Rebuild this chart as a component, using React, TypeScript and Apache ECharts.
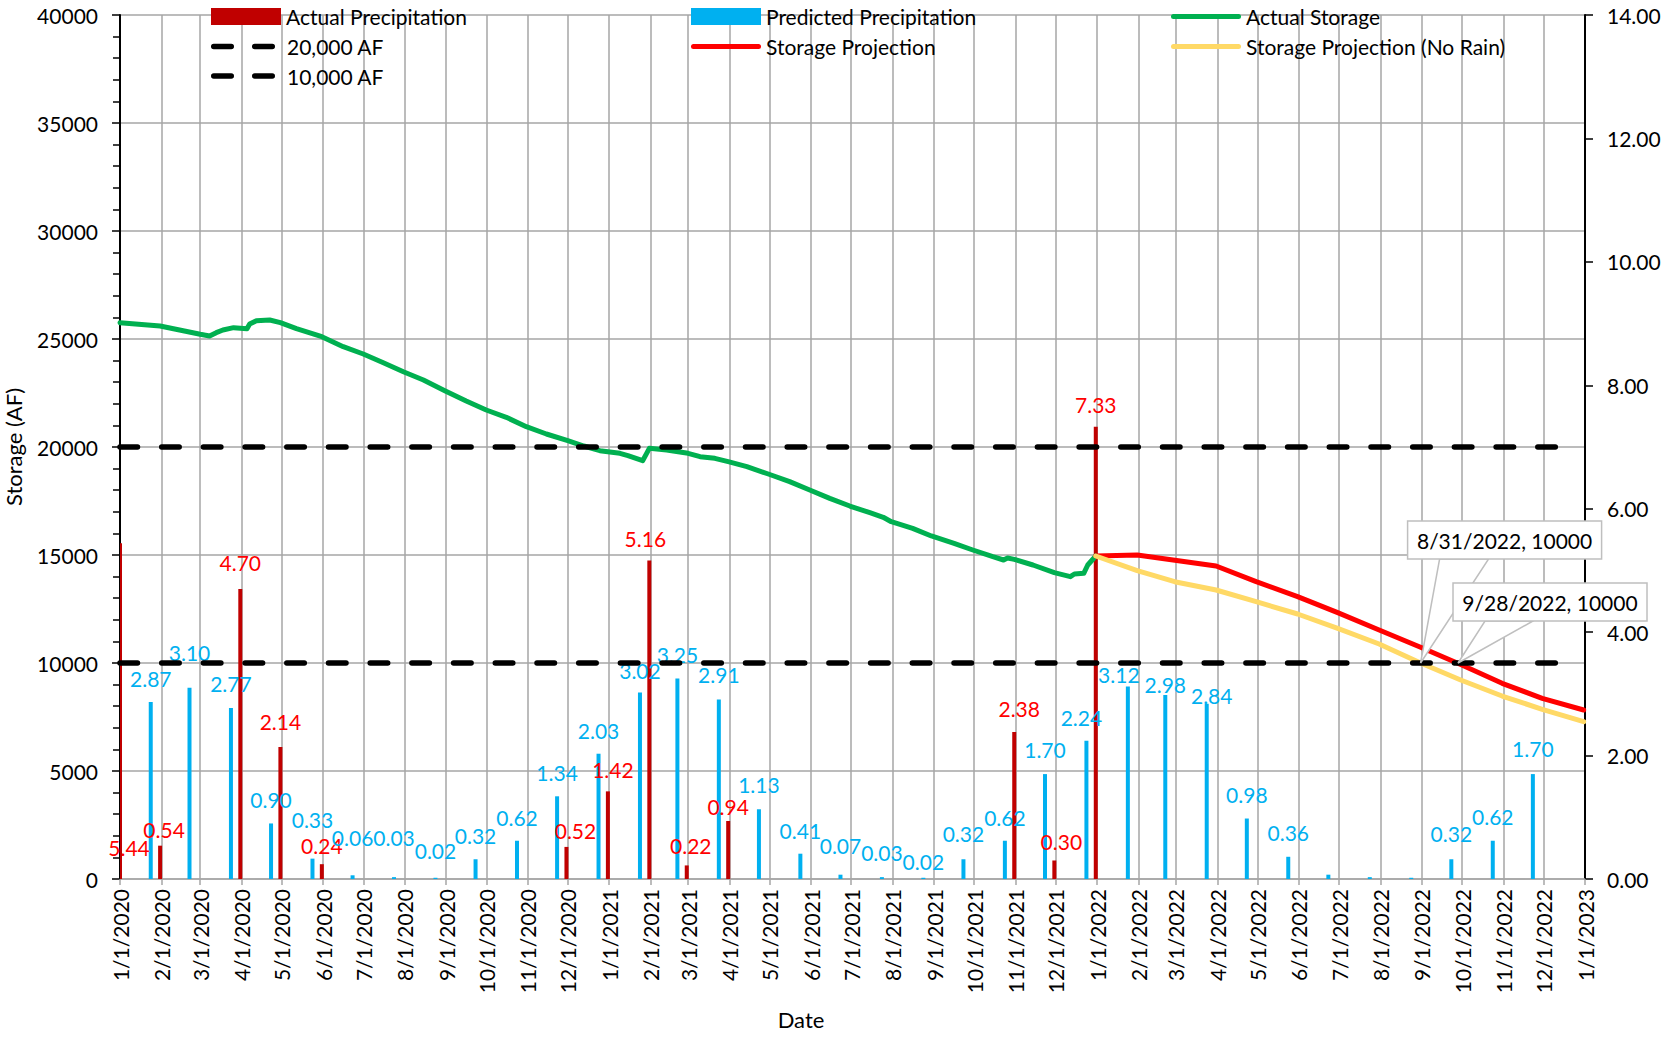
import React, { useEffect, useRef } from 'react';
import * as echarts from 'echarts';

// ---------- DATA ----------
const actualPrecipDates = ['2020-01-01', '2020-01-31', '2020-03-31', '2020-04-30', '2020-05-31', '2020-11-30', '2020-12-31', '2021-01-31', '2021-02-28', '2021-03-31', '2021-10-31', '2021-11-30', '2021-12-31'];
const actualPrecipValues = [5.44, 0.54, 4.70, 2.14, 0.24, 0.52, 1.42, 5.16, 0.22, 0.94, 2.38, 0.30, 7.33];

const predictedDates = ['2020-01-24', '2020-02-22', '2020-03-24', '2020-04-23', '2020-05-24', '2020-06-23', '2020-07-24', '2020-08-24', '2020-09-23', '2020-10-24', '2020-11-23', '2020-12-24',
  '2021-01-24', '2021-02-21', '2021-03-24', '2021-04-23', '2021-05-24', '2021-06-23', '2021-07-24', '2021-08-24', '2021-09-23', '2021-10-24', '2021-11-23', '2021-12-24',
  '2022-01-24', '2022-02-21', '2022-03-24', '2022-04-23', '2022-05-24', '2022-06-23', '2022-07-24', '2022-08-24', '2022-09-23', '2022-10-24', '2022-11-23'];
const predictedValues = [2.87, 3.10, 2.77, 0.90, 0.33, 0.06, 0.03, 0.02, 0.32, 0.62, 1.34, 2.03,
  3.02, 3.25, 2.91, 1.13, 0.41, 0.07, 0.03, 0.02, 0.32, 0.62, 1.70, 2.24,
  3.12, 2.98, 2.84, 0.98, 0.36, 0.07, 0.03, 0.02, 0.32, 0.62, 1.70];

const storageDates = ['2020-01-01', '2020-01-31', '2020-03-01', '2020-03-08', '2020-03-13', '2020-03-18', '2020-03-26', '2020-04-05', '2020-04-07', '2020-04-12', '2020-04-22', '2020-04-30', '2020-05-12', '2020-05-31', '2020-06-16', '2020-07-01', '2020-07-16', '2020-07-31', '2020-08-15', '2020-08-31', '2020-09-16', '2020-10-01', '2020-10-16', '2020-10-31', '2020-11-15', '2020-12-01', '2020-12-13', '2020-12-25',
  '2021-01-09', '2021-01-15', '2021-01-26', '2021-01-29', '2021-01-31', '2021-02-13', '2021-03-01', '2021-03-10', '2021-03-21', '2021-03-31', '2021-04-14', '2021-04-30', '2021-05-16', '2021-05-31', '2021-06-15', '2021-06-30', '2021-07-15', '2021-07-25', '2021-07-31', '2021-08-16', '2021-08-30', '2021-09-16', '2021-09-30', '2021-10-15', '2021-10-23', '2021-10-26', '2021-10-31', '2021-11-14', '2021-11-30', '2021-12-12', '2021-12-15', '2021-12-22', '2021-12-25', '2021-12-31'];
const storageValues = [25755, 25602, 25217, 25139, 25293, 25417, 25525, 25478, 25694, 25848, 25880, 25755, 25478, 25106, 24644, 24305, 23903, 23486, 23102, 22607, 22130, 21713, 21374, 20940, 20602, 20292, 20046, 19829,
  19707, 19600, 19366, 19707, 19939, 19861, 19707, 19552, 19475, 19320, 19089, 18750, 18395, 18009, 17624, 17268, 16958, 16745, 16542, 16234, 15880, 15541, 15231, 14921, 14768, 14860, 14799, 14537, 14182, 13996, 14120, 14151, 14537, 14954];

const projectionDates = ['2021-12-31', '2022-01-31', '2022-03-31', '2022-04-30', '2022-05-31', '2022-06-30', '2022-07-31', '2022-08-31', '2022-09-30', '2022-10-31', '2022-11-30', '2022-12-31'];
const projectionValues = [14954, 15000, 14491, 13765, 13070, 12330, 11528, 10726, 9930, 9059, 8366, 7824];

const noRainDates = ['2021-12-31', '2022-01-31', '2022-02-28', '2022-03-31', '2022-04-30', '2022-05-31', '2022-06-30', '2022-07-31', '2022-08-31', '2022-09-30', '2022-10-31', '2022-11-30', '2022-12-31'];
const noRainValues = [14954, 14275, 13765, 13380, 12839, 12268, 11605, 10880, 10000, 9213, 8472, 7857, 7284];

const thresholdNames = ['20,000 AF', '10,000 AF'];
const thresholdValues = [20000, 10000];
const thresholdSpan = ['2020-01-01', '2022-12-11'];

const crossingDates = ['2022-08-31', '2022-09-28'];
const crossingValues = [10000, 10000];
const crossingLabels = ['8/31/2022, 10000', '9/28/2022, 10000'];

const axisStart = '2020-01-01';
const axisEnd = '2023-01-01';

// ---------- STYLE (label nudges, callout geometry) ----------
const actualLabelShift: number[][] = [[8, 328], [4, 7], [0, -3], [0, -2], [0, 5], [9, 7], [5, 2], [-4, 1], [4, 4], [0, 9], [5, 0], [7, 5], [0, 1]];
const predictedLabelShift: (number[] | null)[] = [
  [0, 0], [0, -12], [0, -1], [0, 0], [0, -16], [0, -14], [0, -16], [0, -4], [0, 0], [0, 0], [0, 0], [0, 0],
  [0, 1], [0, 0], [0, -1], [0, -1], [0, 0], [0, -6], [0, -1], [0, 7], [0, -2], [0, 0], [0, -1], [-5, 0],
  [-9, 12], [0, 13], [5, 15], [0, -1], [0, -1], null, null, null, [0, -2], [0, -1], [0, -2]];
const calloutBoxes = [
  { left: -13, top: -142, w: 194, h: 38, baseL: 19, baseR: 68 },
  { left: -5, top: -80, w: 194, h: 38, baseL: 27, baseR: 75 },
];

const FONT = 'Lato, "Liberation Sans", sans-serif';
const BAR_W = 4;
const LINE_ICON = 'path://M2.5,0 H67.5 A2.5,2.5 0 0 1 67.5,5 H2.5 A2.5,2.5 0 0 1 2.5,0 Z';
const DASH_ICON = 'path://M2.75,0 H20.25 A2.75,2.75 0 0 1 20.25,5.5 H2.75 A2.75,2.75 0 0 1 2.75,0 Z M43.75,0 H61.25 A2.75,2.75 0 0 1 61.25,5.5 H43.75 A2.75,2.75 0 0 1 43.75,0 Z';

const t = (s: string) => {
  const [y, m, d] = s.split('-').map(Number);
  return new Date(y, m - 1, d).getTime();
};

export default function App() {
  const ref = useRef<HTMLDivElement>(null);
  useEffect(() => {
    document.body.style.margin = '0';
    const chart = echarts.init(ref.current!, null, { renderer: 'svg' });

    const lineSeries = (name: string, dates: string[], values: number[], color: string, extra: any = {}) => ({
      name,
      type: 'line',
      yAxisIndex: 0,
      symbol: 'none',
      data: dates.map((d, i) => [t(d), values[i]]),
      lineStyle: { color, width: 5, cap: 'round', join: 'round' },
      itemStyle: { color },
      z: 4,
      ...extra,
    });

    const barSeries = (name: string, dates: string[], values: number[], shifts: (number[] | null)[], color: string, labelColor: string) => ({
      name,
      type: 'custom',
      yAxisIndex: 1,
      itemStyle: { color },
      z: 2,
      data: dates.map((d, i) => [t(d), values[i]]),
      encode: { x: 0, y: 1 },
      renderItem: (params: any, api: any) => {
        const x = api.value(0);
        const v = api.value(1);
        const top = api.coord([x, v]);
        const base = api.coord([x, 0]);
        const cs = params.coordSys;
        const x0 = Math.max(top[0] - BAR_W / 2, cs.x);
        const x1 = Math.min(top[0] + BAR_W / 2, cs.x + cs.width);
        const shift = shifts[params.dataIndex];
        const el: any = {
          type: 'rect',
          shape: { x: x0, y: top[1], width: Math.max(0, x1 - x0), height: base[1] - top[1] },
          style: { fill: color },
        };
        if (shift) {
          el.textContent = {
            style: { text: Number(v).toFixed(2), fill: labelColor, fontSize: 21, fontFamily: FONT },
          };
          el.textConfig = { position: 'top', distance: 13, offset: shift };
        }
        return el;
      },
    });

    const legendItem = (left: number, top: number, name: string, icon: string, w: number, h: number, padLeft = 0) => ({
      orient: 'vertical',
      left,
      top,
      itemWidth: w,
      itemHeight: h,
      padding: 0,
      data: [{ name, icon }],
      textStyle: { fontSize: 21, lineHeight: 21, color: '#000', fontFamily: FONT, padding: [0, 0, 0, padLeft] },
    });

    const dashStyle = { color: '#000', width: 5.5, type: [17.5, 24.2], cap: 'round' };

    const option: any = {
      animation: false,
      backgroundColor: '#fff',
      textStyle: { fontFamily: FONT },
      grid: { left: 120, right: 85, top: 15, bottom: 158, containLabel: false, outerBoundsMode: 'none' },
      legend: [
        legendItem(211, 6, 'Actual Precipitation', 'rect', 70, 17),
        legendItem(211, 36, '20,000 AF', DASH_ICON, 64, 5.5, 7),
        legendItem(211, 65.5, '10,000 AF', DASH_ICON, 64, 5.5, 7),
        legendItem(691, 6, 'Predicted Precipitation', 'rect', 70, 17),
        legendItem(691, 36, 'Storage Projection', LINE_ICON, 70, 5),
        legendItem(1171, 6, 'Actual Storage', LINE_ICON, 70, 5),
        legendItem(1171, 36, 'Storage Projection (No Rain)', LINE_ICON, 70, 5),
      ],
      xAxis: {
        type: 'time',
        min: t(axisStart),
        max: t(axisEnd),
        splitNumber: 36,
        minInterval: 28 * 86400000,
        maxInterval: 31 * 86400000,
        axisLine: { show: true, onZero: false, lineStyle: { color: '#a6a6a6', width: 1.5 } },
        axisTick: { show: true, length: 6, lineStyle: { color: '#a6a6a6', width: 1.5 } },
        axisLabel: {
          rotate: 90,
          margin: 10,
          fontSize: 21,
          color: '#000',
          fontFamily: FONT,
          fontWeight: 'normal',
          showMinLabel: true,
          showMaxLabel: true,
          hideOverlap: false,
          formatter: (v: number) => {
            const d = new Date(v);
            return `${d.getMonth() + 1}/${d.getDate()}/${d.getFullYear()}`;
          },
        },
        splitLine: { show: true, lineStyle: { color: '#a6a6a6', width: 1.5 } },
      },
      yAxis: [
        {
          type: 'value',
          min: 0,
          max: 40000,
          interval: 5000,
          name: 'Storage (AF)',
          nameLocation: 'middle',
          nameGap: 96,
          nameTextStyle: { fontSize: 22, color: '#000', fontFamily: FONT },
          axisLine: { show: true, lineStyle: { color: '#000', width: 2 } },
          axisTick: { show: true, length: 8, lineStyle: { color: '#000', width: 1.5 } },
          minorTick: { show: true, splitNumber: 5, length: 7, lineStyle: { color: '#000', width: 1.5 } },
          axisLabel: { fontSize: 21, color: '#000', margin: 22, fontFamily: FONT, formatter: (v: number) => String(v) },
          splitLine: { show: true, lineStyle: { color: '#a6a6a6', width: 1.5 } },
        },
        {
          type: 'value',
          position: 'right',
          min: 0,
          max: 14,
          interval: 2,
          axisLine: { show: true, lineStyle: { color: '#000', width: 2 } },
          axisTick: { show: true, length: 8, lineStyle: { color: '#000', width: 1.5 } },
          axisLabel: { fontSize: 21, color: '#000', margin: 22, fontFamily: FONT, formatter: (v: number) => v.toFixed(2) },
          splitLine: { show: false },
        },
      ],
      series: [
        barSeries('Actual Precipitation', actualPrecipDates, actualPrecipValues, actualLabelShift, '#C00000', '#FF0000'),
        barSeries('Predicted Precipitation', predictedDates, predictedValues, predictedLabelShift, '#00B0F0', '#00B0F0'),
        lineSeries('Actual Storage', storageDates, storageValues, '#00B050'),
        lineSeries(thresholdNames[0], thresholdSpan, [thresholdValues[0], thresholdValues[0]], '#000000', { lineStyle: dashStyle, z: 5 }),
        lineSeries('Storage Projection', projectionDates, projectionValues, '#FF0000'),
        lineSeries('Storage Projection (No Rain)', noRainDates, noRainValues, '#FFD966'),
        lineSeries(thresholdNames[1], thresholdSpan, [thresholdValues[1], thresholdValues[1]], '#000000', { lineStyle: dashStyle, z: 5 }),
      ],
    };

    chart.setOption(option);

    const graphics: any[] = [];
    crossingDates.forEach((d, i) => {
      const p = chart.convertToPixel({ xAxisIndex: 0, yAxisIndex: 0 }, [t(d), crossingValues[i]]) as number[];
      const b = calloutBoxes[i];
      const bx = p[0] + b.left;
      const by = p[1] + b.top;
      graphics.push({
        type: 'polygon',
        z: 100 + i * 10,
        shape: { points: [[p[0], p[1]], [p[0] + b.baseL, by + b.h], [p[0] + b.baseR, by + b.h]] },
        style: { fill: '#fff', stroke: '#bfbfbf', lineWidth: 1.5 },
      });
      graphics.push({
        type: 'rect',
        z: 101 + i * 10,
        shape: { x: bx, y: by, width: b.w, height: b.h },
        style: { fill: '#fff', stroke: '#bfbfbf', lineWidth: 1.5 },
      });
      graphics.push({
        type: 'text',
        z: 102 + i * 10,
        x: bx + b.w / 2,
        y: by + b.h / 2,
        style: { text: crossingLabels[i], fill: '#000', fontSize: 21, fontFamily: FONT, align: 'center', verticalAlign: 'middle' },
      });
    });
    graphics.push({
      type: 'text',
      x: 801,
      y: 1019,
      style: { text: 'Date', fill: '#000', fontSize: 22, fontFamily: FONT, align: 'center', verticalAlign: 'middle' },
    });
    chart.setOption({ graphic: graphics });

    return () => chart.dispose();
  }, []);
  return <div ref={ref} style={{ width: 1670, height: 1037 }} />;
}
